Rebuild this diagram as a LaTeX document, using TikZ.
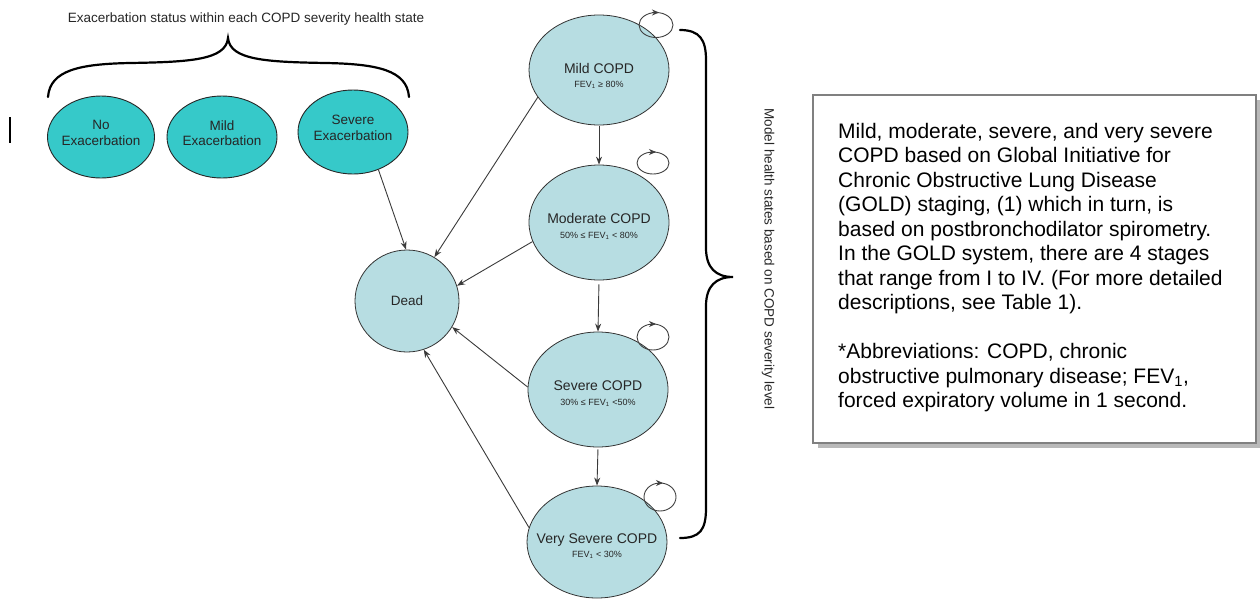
\documentclass[tikz,border=0pt]{standalone}
\usepackage{fontspec}
\setmainfont{Liberation Sans}
\usetikzlibrary{shapes.geometric,arrows.meta}
\definecolor{tealfill}{HTML}{36C9C9}
\definecolor{lblue}{HTML}{B7DDE2}
\definecolor{edgecol}{HTML}{3A3A3A}
\definecolor{boxgray}{HTML}{808080}
\begin{document}
\begin{tikzpicture}[x=1pt,y=-1pt,
  exac/.style={ellipse, draw=black!85, line width=0.9pt, fill=tealfill, inner sep=0pt, minimum width=110pt, minimum height=82pt},
  copd/.style={ellipse, draw=black!80, line width=0.8pt, fill=lblue, inner sep=0pt, minimum width=140pt, minimum height=114pt},
  lbl/.style={font=\fontsize{13.5}{15.5}\selectfont, text=black!85, align=center, inner sep=0pt},
  conn/.style={draw=edgecol, line width=0.9pt, -{Stealth[length=8pt,width=6pt]}},
  loopst/.style={draw=black!75, line width=0.9pt},
  bracest/.style={draw=black, line width=2.2pt, line cap=round}
]
\useasboundingbox (0,0) rectangle (1260,600);

% stray bar
\draw[line width=2pt] (10,117) -- (10,143);

% top label and brace
\node[lbl] (toplbl) at (246,19) {Exacerbation status within each COPD severity health state};
\draw[bracest] (48,97) .. controls (50,70) and (80,64) .. (130,63)
  .. controls (190,62) and (226,60) .. (228,38)
  .. controls (230,60) and (266,62) .. (326,63)
  .. controls (377,64) and (407,70) .. (409,97);

% exacerbation ellipses
\node[exac, minimum width=107pt, label={[lbl, yshift=4pt]center:{No\\Exacerbation}}] (noex) at (101,137) {};
\node[exac, label={[lbl, yshift=4pt]center:{Mild\\Exacerbation}}] (mildex) at (222,137) {};
\node[exac, minimum height=84pt, label={[lbl, yshift=4pt]center:{Severe\\Exacerbation}}] (sevex) at (353,132) {};

% COPD states
\node[copd, minimum height=110pt, label={[lbl, yshift=-6pt]center:{\fontsize{14}{16}\selectfont Mild COPD\\[-1pt]{\fontsize{9}{10}\selectfont FEV\textsubscript{1} ≥ 80\%}}}] (mild) at (599,70) {};
\node[copd, minimum height=115pt, label={[lbl, yshift=-4pt]center:{\fontsize{14}{16}\selectfont Moderate COPD\\[-1pt]{\fontsize{9}{10}\selectfont 50\% ≤ FEV\textsubscript{1} < 80\%}}}] (mod) at (599,222.5) {};
\node[copd, minimum height=115pt, label={[lbl, yshift=-4pt]center:{\fontsize{14}{16}\selectfont Severe COPD\\[-1pt]{\fontsize{9}{10}\selectfont 30\% ≤ FEV\textsubscript{1} <50\%}}}] (sev) at (598,389.5) {};
\node[copd, minimum height=112pt, label={[lbl, yshift=-4pt]center:{\fontsize{14}{16}\selectfont Very Severe COPD\\[-1pt]{\fontsize{9}{10}\selectfont FEV\textsubscript{1} < 30\%}}}] (vs) at (597,542) {};

% dead
\node[ellipse, draw=black!80, line width=0.8pt, fill=lblue, inner sep=0pt, minimum width=104pt, minimum height=102pt, label={[lbl]center:Dead}] (dead) at (407,301) {};

% transitions
\draw[conn] (sevex.304) -- (dead.91);
\draw[conn] (mild.204) -- (dead.58);
\draw[conn] (mod.196) -- (dead.17);
\draw[conn] (sev.178) -- (dead.330);
\draw[conn] (vs.168) -- (dead.289);
\draw[conn, shorten <=1pt] (mild.south) -- (mod.north);
\draw[conn, shorten <=4pt] (mod.south) -- (sev.north);
\draw[conn, shorten <=2pt] (sev.south) -- (vs.north);

% self loops
\draw[loopst] (656,25) ellipse (17pt and 12.5pt);
\draw[loopst, -{Stealth[length=7pt,width=6pt]}] (652,12.5) -- (659,12.5);
\draw[loopst] (653,163) ellipse (16pt and 11pt);
\draw[loopst, -{Stealth[length=7pt,width=6pt]}] (649,152) -- (656,152);
\draw[loopst] (653,337) ellipse (16pt and 13pt);
\draw[loopst, -{Stealth[length=7pt,width=6pt]}] (649,324) -- (656,324);
\draw[loopst] (660,497) ellipse (16pt and 14pt);
\draw[loopst, -{Stealth[length=7pt,width=6pt]}] (656,483) -- (663,483);

% right brace and label
\draw[bracest] (680,30) .. controls (700,30) and (706,40) .. (706,60) -- (706,248)
  .. controls (706,268) and (716,277) .. (733,277)
  .. controls (716,277) and (706,286) .. (706,306) -- (706,508)
  .. controls (706,530) and (700,538) .. (680,538);
\node[lbl, rotate=-90] (vlbl) at (768,259) {Model health states based on COPD severity level};

% note box
\fill[gray!55] (818,100) rectangle (1262,448);
\draw[draw=boxgray, line width=2pt, fill=white] (813,95) rectangle (1256,443);
\node[anchor=north west, align=left, inner sep=0pt, font=\fontsize{21}{24.5}\selectfont] (note) at (838,123) {Mild, moderate, severe, and very severe\\
COPD based on Global Initiative for\\
Chronic Obstructive Lung Disease\\
(GOLD) staging, (1) which in turn, is\\
based on postbronchodilator spirometry.\\
In the GOLD system, there are 4 stages\\
that range from I to IV. (For more detailed\\
descriptions, see Table 1).\\[24.5pt]
*Abbreviations: COPD, chronic\\
obstructive pulmonary disease; FEV\textsubscript{1},\\
forced expiratory volume in 1 second.};
\end{tikzpicture}
\end{document}
